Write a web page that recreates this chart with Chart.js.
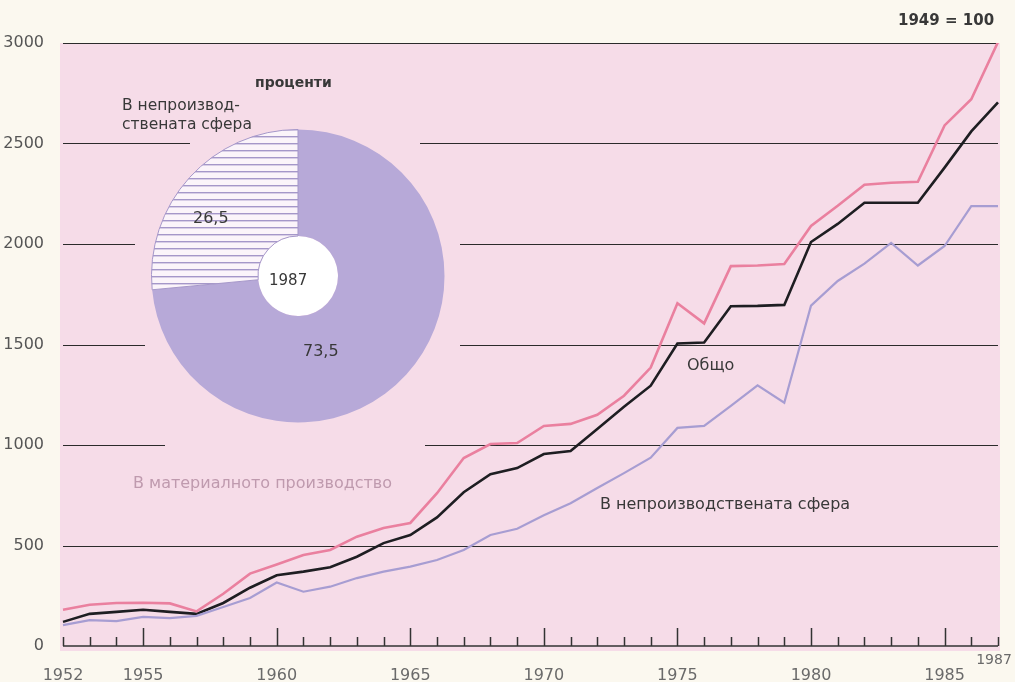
<!DOCTYPE html>
<html lang="bg">
<head>
<meta charset="utf-8">
<title>Национален доход, 1949 = 100</title>
<script src="https://cdn.jsdelivr.net/npm/chart.js@4.4.0/dist/chart.umd.min.js"></script>
<style>
    body { margin: 0; background: #fbf8ef; }
    .wrap { position: relative; width: 1015px; height: 682px; font-family: "DejaVu Sans", sans-serif; color: #383838; }
    .wrap canvas { position: absolute; }
    #lineChart { left: 0; top: 0; }
    #pieChart { left: 151px; top: 129px; }
    .note { position: absolute; white-space: nowrap; transform: translateY(-50%); font-size: 16px; }
    .bold { font-weight: bold; }
</style>
</head>
<body>
<div class="wrap">
    <canvas id="lineChart" width="1015" height="682"></canvas>
    <canvas id="pieChart" width="294" height="294"></canvas>

    <div class="note bold" style="left:898px; top:20px; font-size:15px;">1949 = 100</div>
    <div class="note bold" style="left:255px; top:82px; font-size:14px;">проценти</div>
    <div class="note" style="left:122px; top:105px; font-size:15.5px;">В непроизвод-</div>
    <div class="note" style="left:122px; top:124px; font-size:15.5px;">ствената сфера</div>
    <div class="note" style="left:193px; top:217px;">26,5</div>
    <div class="note" style="left:269px; top:280px; font-size:15px;">1987</div>
    <div class="note" style="left:303px; top:350px;">73,5</div>
    <div class="note" style="left:687px; top:364px;">Общо</div>
    <div class="note" style="left:600px; top:503px;">В непроизводствената сфера</div>
    <div class="note" style="left:133px; top:482px; color:#bf9aae;">В материалното производство</div>
</div>

<script>
const years = [1952, 1953, 1954, 1955, 1956, 1957, 1958, 1959, 1960, 1961, 1962, 1963,
    1964, 1965, 1966, 1967, 1968, 1969, 1970, 1971, 1972, 1973, 1974, 1975,
    1976, 1977, 1978, 1979, 1980, 1981, 1982, 1983, 1984, 1985, 1986, 1987];

// В материалното производство
const material = [180, 205, 214, 215, 212, 172, 260, 360, 405, 453, 478, 544,
    587, 612, 760, 935, 1005, 1010, 1095, 1105, 1150, 1245, 1385, 1705,
    1605, 1890, 1893, 1900, 2090, 2190, 2295, 2305, 2310, 2590, 2720, 3005];

// Общо
const total = [120, 160, 170, 180, 170, 160, 214, 290, 352, 370, 392, 444,
    512, 552, 640, 765, 855, 885, 955, 970, 1080, 1190, 1295, 1505,
    1510, 1690, 1692, 1697, 2010, 2100, 2205, 2205, 2205, 2380, 2560, 2705];

// В непроизводствената сфера
const nonProductive = [104, 129, 124, 145, 139, 150, 194, 239, 316, 270, 295, 338,
    370, 395, 428, 478, 552, 583, 650, 710, 786, 860, 937, 1085,
    1095, 1195, 1297, 1210, 1693, 1816, 1902, 2005, 1893, 1990, 2188, 2188];

const xLabelYears = [1952, 1955, 1960, 1965, 1970, 1975, 1980, 1985, 1987];
const yTicks = [0, 500, 1000, 1500, 2000, 2500, 3000];

const pieLabels = ['В материалното производство', 'В непроизводствената сфера'];
const pieValues = [73.5, 26.5];

// gaps in the grid lines around the doughnut (pixels)
const gridGaps = { 2500: [190, 420], 2000: [135, 460], 1500: [145, 460], 1000: [165, 425] };

const COLORS = {
    page: '#fbf8ef',
    plot: '#f6dce8',
    grid: '#2b2b2b',
    material: '#ea809f',
    total: '#1e1e22',
    nonProductive: '#a79dd2',
    pie: '#b7a9d8',
    hatch: '#a597c9',
    tickText: '#6a6a6a'
};

const lastYear = years[years.length - 1];

const backgroundPlugin = {
    id: 'background',
    beforeDraw(chart) {
        const { ctx, chartArea: a } = chart;
        ctx.save();
        ctx.fillStyle = COLORS.page;
        ctx.fillRect(0, 0, chart.width, chart.height);
        ctx.fillStyle = COLORS.plot;
        ctx.fillRect(a.left - 3, a.top, a.right - a.left + 5, a.bottom - a.top + 5);
        ctx.restore();
    }
};

const gridPlugin = {
    id: 'gappedGrid',
    beforeDatasetsDraw(chart) {
        const { ctx, chartArea: a, scales } = chart;
        ctx.save();
        ctx.strokeStyle = COLORS.grid;
        ctx.lineWidth = 1.2;
        yTicks.forEach(v => {
            if (v === 0) return;
            const y = Math.round(scales.y.getPixelForValue(v)) + 0.5;
            const gap = gridGaps[v];
            ctx.beginPath();
            if (gap) {
                ctx.moveTo(a.left, y); ctx.lineTo(gap[0], y);
                ctx.moveTo(gap[1], y); ctx.lineTo(a.right, y);
            } else {
                ctx.moveTo(a.left, y); ctx.lineTo(a.right, y);
            }
            ctx.stroke();
        });
        ctx.restore();
    }
};

// year ticks pointing up from the base line, plus the squeezed last label
const yearTicksPlugin = {
    id: 'yearTicks',
    afterDraw(chart) {
        const { ctx, chartArea: a, scales } = chart;
        ctx.save();
        ctx.strokeStyle = '#333';
        ctx.lineWidth = 1.5;
        ctx.beginPath();
        ctx.moveTo(a.left, a.bottom); ctx.lineTo(a.right, a.bottom);
        years.forEach((yr, i) => {
            const x = Math.round(scales.x.getPixelForValue(i)) + 0.5;
            const len = yr % 5 === 0 ? 18 : 9;
            ctx.moveTo(x, a.bottom); ctx.lineTo(x, a.bottom - len);
        });
        ctx.stroke();

        const xLast = scales.x.getPixelForValue(years.length - 1);
        ctx.fillStyle = COLORS.tickText;
        ctx.font = '14px "DejaVu Sans", sans-serif';
        ctx.textAlign = 'center';
        ctx.textBaseline = 'middle';
        ctx.fillText(String(lastYear), xLast - 4, a.bottom + 14);
        ctx.restore();
    }
};

new Chart(document.getElementById('lineChart'), {
    type: 'line',
    data: {
        labels: years,
        datasets: [
            { label: 'В непроизводствената сфера', data: nonProductive, borderColor: COLORS.nonProductive, borderWidth: 2.2 },
            { label: 'В материалното производство', data: material, borderColor: COLORS.material, borderWidth: 2.6 },
            { label: 'Общо', data: total, borderColor: COLORS.total, borderWidth: 2.6 }
        ]
    },
    options: {
        responsive: false,
        animation: false,
        events: [],
        elements: { point: { radius: 0 }, line: { tension: 0, fill: false } },
        layout: { padding: { top: 43, right: 17, left: 0, bottom: 0 } },
        plugins: { legend: { display: false }, tooltip: { enabled: false } },
        scales: {
            x: {
                type: 'category',
                offset: false,
                grid: { display: false },
                border: { display: false },
                ticks: {
                    autoSkip: false,
                    maxRotation: 0,
                    padding: 12,
                    color: COLORS.tickText,
                    font: { family: '"DejaVu Sans", sans-serif', size: 16 },
                    callback: (v, i) => (xLabelYears.includes(years[i]) && years[i] !== lastYear) ? String(years[i]) : ''
                },
                afterFit: s => { s.height = 36; s.paddingLeft = 0; s.paddingRight = 0; }
            },
            y: {
                min: 0,
                max: 3000,
                grid: { display: false },
                border: { display: false },
                ticks: {
                    stepSize: 500,
                    padding: 11,
                    color: '#555',
                    font: { family: '"DejaVu Sans", sans-serif', size: 16 },
                    callback: v => String(v)
                },
                afterFit: s => { s.width = 63; s.paddingTop = 0; s.paddingBottom = 0; }
            }
        }
    },
    plugins: [backgroundPlugin, gridPlugin, yearTicksPlugin]
});

// horizontal hatching for the smaller slice
function makeHatch() {
    const c = document.createElement('canvas');
    c.width = 8;
    c.height = 7;
    const g = c.getContext('2d');
    g.fillStyle = '#fbf4fa';
    g.fillRect(0, 0, 8, 7);
    g.fillStyle = COLORS.hatch;
    g.fillRect(0, 0, 8, 1.4);
    return g.createPattern(c, 'repeat');
}

const holePlugin = {
    id: 'hole',
    beforeDatasetsDraw(chart) {
        const arc = chart.getDatasetMeta(0).data[0];
        if (!arc) return;
        const { ctx } = chart;
        ctx.save();
        ctx.fillStyle = '#ffffff';
        ctx.beginPath();
        ctx.arc(arc.x, arc.y, arc.innerRadius, 0, Math.PI * 2);
        ctx.fill();
        ctx.restore();
    }
};

new Chart(document.getElementById('pieChart'), {
    type: 'doughnut',
    data: {
        labels: pieLabels,
        datasets: [{
            data: pieValues,
            backgroundColor: [COLORS.pie, makeHatch()],
            borderColor: COLORS.hatch,
            borderWidth: [0, 1]
        }]
    },
    options: {
        responsive: false,
        animation: false,
        events: [],
        cutout: 40,
        layout: { padding: 0 },
        plugins: { legend: { display: false }, tooltip: { enabled: false } }
    },
    plugins: [holePlugin]
});
</script>
</body>
</html>
